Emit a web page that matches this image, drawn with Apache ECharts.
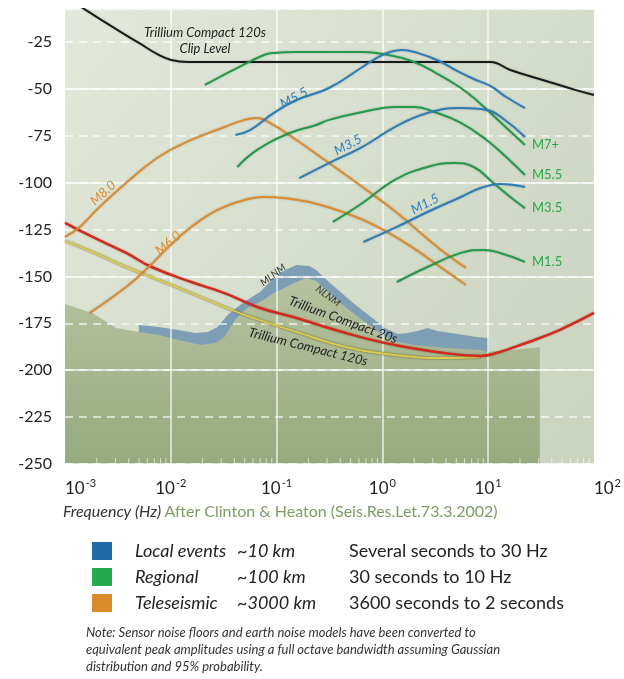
<!DOCTYPE html>
<html>
<head>
<meta charset="utf-8">
<script src="https://cdn.jsdelivr.net/npm/echarts@6/dist/echarts.min.js"></script>
<style>
  html, body { margin: 0; padding: 0; background: #fff; }
  #chart { width: 624px; height: 679px; }
</style>
</head>
<body>
<div id="chart"></div>
<script>
// [frequency Hz, amplitude dB]
const clipLevel120s = [[0.0013, -5], [0.00262, -16], [0.005, -25.6], [0.0077, -32], [0.0101, -34.7], [0.0146, -35.7], [0.1, -35.7], [1, -35.7], [10.5, -35.7], [16.2, -40], [32.8, -45.3], [66.5, -50.6], [100, -53.3]];
const tc20 = [[0.001, -121.5], [0.00182, -129.0], [0.00378, -137.5], [0.00659, -145.0], [0.0156, -153.0], [0.0322, -158.9], [0.0655, -166.3], [0.154, -172.2], [0.451, -180.2], [1.31, -186.6], [3.85, -190.8], [8.49, -192.4], [11.2, -191.4], [22.8, -185.5], [47.2, -178.6], [100, -169.5]];
const tc120 = [[0.001, -131.1], [0.00182, -137.0], [0.00378, -145.0], [0.00767, -151.9], [0.0156, -158.9], [0.0322, -166.3], [0.0562, -171.6], [0.154, -179.6], [0.451, -187.6], [1.31, -191.9], [3.85, -193.5], [8.49, -193.0]];
const nlnm = [[0.001, -164.7], [0.00182, -169.5], [0.00305, -177.5], [0.00499, -179.6], [0.00767, -181.2], [0.0118, -183.9], [0.0193, -186.6], [0.026, -185.5], [0.0322, -182.3], [0.0366, -177.0], [0.0426, -171.6], [0.0528, -166.9], [0.0698, -163.7], [0.0942, -158.9], [0.124, -155.7], [0.154, -153.0], [0.191, -150.9], [0.237, -152.5], [0.313, -158.9], [0.423, -165.3], [0.558, -170.6], [0.804, -177.0], [1.0, -181.2], [1.4, -185.0], [2.02, -186.6], [4.1, -188.2], [8.49, -189.2], [9.66, -190.3], [17.2, -189.2], [30.8, -187.6]];
const mlnm = [[0.00499, -175.9], [0.00767, -177.0], [0.0118, -178.6], [0.0169, -180.2], [0.0224, -179.6], [0.0277, -177.0], [0.0344, -170.6], [0.0426, -166.3], [0.0528, -162.6], [0.0698, -158.3], [0.0865, -153.0], [0.107, -148.2], [0.133, -145.5], [0.154, -143.9], [0.204, -144.5], [0.237, -146.6], [0.313, -153.0], [0.423, -159.4], [0.558, -165.3], [0.804, -172.2], [1.06, -177.5], [1.4, -180.7], [1.74, -180.2], [2.15, -179.1], [2.67, -177.5], [3.31, -179.1], [4.47, -180.2], [5.9, -181.2], [7.8, -182.3], [10.1, -182.8], [10.1, -192.4]];

const localM55 = [[0.0408, -74.6], [0.0562, -72.0], [0.0942, -62.9], [0.154, -56.0], [0.313, -49.6], [0.649, -38.4], [0.914, -33.1], [1.18, -30.4], [1.53, -29.3], [2.15, -30.9], [3.45, -35.2], [5.08, -40.5], [7.31, -44.8], [10.5, -48.5], [14.8, -54.4], [22.3, -60.3]];
const localM35 = [[0.164, -97.6], [0.313, -89.6], [0.649, -81.0], [1.31, -70.4], [2.67, -62.9], [5.53, -60.3], [9.66, -61.3], [14.8, -67.2], [22.3, -75.7]];
const localM15 = [[0.662, -131.7], [1.31, -124.2], [2.67, -115.7], [5.53, -107.7], [8.49, -102.9], [13.0, -100.8], [22.3, -102.4]];

const regionalM7 = [[0.021, -48.0], [0.0426, -38.9], [0.076, -32.0], [0.0942, -30.9], [0.154, -30.4], [0.649, -30.4], [1.13, -32.0], [1.89, -35.2], [3.1, -41.1], [5.53, -49.6], [8.49, -58.1], [13.0, -67.7], [17.2, -74.1], [22.3, -80.0]];
const regionalM55 = [[0.0426, -91.7], [0.0655, -82.6], [0.133, -73.6], [0.237, -69.3], [0.313, -66.6], [0.649, -62.4], [1.31, -59.7], [2.02, -59.7], [3.1, -62.4], [5.53, -68.2], [9.66, -77.3], [14.8, -86.4], [22.3, -96.0]];
const regionalM35 = [[0.341, -121.0], [0.649, -110.9], [1.31, -98.6], [2.67, -91.7], [4.76, -89.6], [7.31, -91.7], [11.2, -100.2], [16.2, -107.7], [22.3, -113.6]];
const regionalM15 = [[1.37, -153.0], [2.67, -145.0], [5.53, -137.5], [9.06, -135.9], [13.0, -137.5], [22.3, -142.3]];
const regionalTags = ['M7+', 'M5.5', 'M3.5', 'M1.5'];

const teleM80 = [[0.001, -129.0], [0.00138, -123.7], [0.00212, -113.0], [0.00378, -100.2], [0.00767, -86.4], [0.0156, -77.3], [0.0322, -70.4], [0.0495, -66.6], [0.0655, -65.6], [0.0865, -68.2], [0.154, -77.3], [0.313, -89.6], [0.649, -102.4], [1.31, -115.2], [3.31, -134.3], [6.17, -145.5]];
const teleM60 = [[0.00171, -169.5], [0.00378, -155.7], [0.00618, -145.0], [0.00951, -134.3], [0.0156, -123.7], [0.0277, -114.6], [0.0495, -109.3], [0.076, -107.7], [0.117, -108.2], [0.204, -110.4], [0.451, -116.2], [0.914, -123.7], [1.89, -134.3], [3.31, -143.9], [6.17, -154.6]];

const legendNames = ['Local events', 'Regional', 'Teleseismic'];
const legendDistance = ['~10 km', '~100 km', '~3000 km'];
const legendBand = ['Several seconds to 30 Hz', '30 seconds to 10 Hz', '3600 seconds to 2 seconds'];

const BLUE = '#2a7dbd', GREEN = '#1f9b4a', ORANGE = '#df8a2b';
const FONT = 'Lato';

const chart = echarts.init(document.getElementById('chart'));

function curve(name, data, color, extra) {
  return Object.assign({
    type: 'line', name: name, data: data, smooth: 0.45, symbol: 'none', silent: true, z: 3,
    color: color,
    lineStyle: { color: color, width: 2, shadowColor: 'rgba(0,0,0,0.25)', shadowBlur: 2 }
  }, extra || {});
}

function area(name, pts, fill, z) {
  return {
    type: 'custom', name: name, z: z, silent: true, data: [pts[0]],
    renderItem: function (params, api) {
      return { type: 'polygon', shape: { points: pts.map(function (p) { return api.coord(p); }) }, style: { fill: fill } };
    }
  };
}

// minor log ticks along the bottom axis
const minorTicks = [];
for (let e = -3; e < 2; e++) {
  for (let k = 2; k <= 9; k++) minorTicks.push([k * Math.pow(10, e), -250]);
}

const greenEnd = function (tag) {
  return { endLabel: { show: true, formatter: tag, color: '#2aa84a', fontSize: 13, fontFamily: FONT, distance: 7 } };
};

const notes = [
  ['Trillium Compact 120s', 205, 33, 0, '#222', 13],
  ['Clip Level', 205, 49, 0, '#222', 13],
  ['M5.5', 294, 98, 28, BLUE, 13],
  ['M3.5', 348, 145, 28, BLUE, 13],
  ['M1.5', 425, 204, 27, BLUE, 13],
  ['M8.0', 103, 193, 42, ORANGE, 13],
  ['M6.0', 168, 243, 40, ORANGE, 13],
  ['MLNM', 273, 275, 38, '#333', 10],
  ['NLNM', 328, 296, -37, '#333', 10],
  ['Trillium Compact 20s', 343, 320, -20, '#222', 13],
  ['Trillium Compact 120s', 308, 347, -14, '#222', 13]
];

const graphics = notes.map(function (n) {
  return {
    type: 'text', x: n[1], y: n[2], rotation: n[3] * Math.PI / 180, z: 10, silent: true,
    style: { text: n[0], fill: n[4], font: 'italic ' + n[5] + 'px ' + FONT, align: 'center', verticalAlign: 'middle' }
  };
});
graphics.push({
  type: 'text', x: 63, y: 504, silent: true,
  style: {
    text: '{a|Frequency (Hz)} {b|After Clinton & Heaton (Seis.Res.Let.73.3.2002)}',
    rich: {
      a: { fontFamily: FONT, fontStyle: 'italic', fontSize: 16, fill: '#333' },
      b: { fontFamily: FONT, fontSize: 16, fill: '#7d9c66' }
    }
  }
});
graphics.push({
  type: 'text', x: 86, y: 624, silent: true,
  style: {
    text: 'Note: Sensor noise floors and earth noise models have been converted to\nequivalent peak amplitudes using a full octave bandwidth assuming Gaussian\ndistribution and 95% probability.',
    font: 'italic 13px ' + FONT, fill: '#333', lineHeight: 17
  }
});

const option = {
  animation: false,
  grid: {
    left: 65, right: 22, top: 9, bottom: 215, show: true, borderWidth: 0, z: -5,
    backgroundColor: new echarts.graphic.LinearGradient(0, 0, 1, 1, [
      { offset: 0, color: '#e2e8db' }, { offset: 1, color: '#c9d3bd' }
    ])
  },
  xAxis: {
    type: 'log', logBase: 10, min: 0.001, max: 100,
    axisLine: { show: false }, axisTick: { show: false },
    splitLine: { show: true, showMinLine: false, showMaxLine: false, lineStyle: { color: 'rgba(255,255,255,0.8)', width: 1.5 } },
    axisLabel: {
      margin: 14, alignMinLabel: 'left', alignMaxLabel: 'left',
      formatter: function (v) { return '{b|10}{s|' + Math.round(Math.log10(v)) + '}'; },
      rich: {
        b: { fontFamily: FONT, fontSize: 17, color: '#222', verticalAlign: 'bottom' },
        s: { fontFamily: FONT, fontSize: 11, color: '#222', verticalAlign: 'bottom', padding: [0, 0, 8, 1] }
      }
    }
  },
  yAxis: [{
    type: 'value', min: -250, max: -7.5, interval: 25,
    axisLine: { show: false }, axisTick: { show: false },
    axisLabel: {
      margin: 13, color: '#222', fontFamily: FONT, fontSize: 16,
      formatter: function (v) { return v % 25 === 0 ? String(v) : ''; }
    },
    splitLine: { lineStyle: { color: 'rgba(255,255,255,0.8)', width: 1.5, type: [8, 6] } }
  }, {
    type: 'value', min: -250, max: -7.5, interval: 50, position: 'left',
    axisLine: { show: false }, axisTick: { show: false }, axisLabel: { show: false },
    splitLine: { lineStyle: { color: 'rgba(255,255,255,0.85)', width: 1.5 } }
  }],
  legend: {
    orient: 'vertical', left: 87, top: 537, itemWidth: 20, itemHeight: 18, itemGap: 8,
    icon: 'rect', selectedMode: false,
    data: [
      { name: legendNames[0], itemStyle: { color: '#1f6aa8' } },
      { name: legendNames[1], itemStyle: { color: '#24ab4b' } },
      { name: legendNames[2], itemStyle: { color: '#d98b2b' } }
    ],
    formatter: function (name) {
      const i = legendNames.indexOf(name);
      return '{a|' + name + '}{b|' + legendDistance[i] + '}{c|' + legendBand[i] + '}';
    },
    textStyle: {
      color: '#222', fontFamily: FONT, fontSize: 18,
      rich: {
        a: { fontStyle: 'italic', fontSize: 18, width: 102, lineHeight: 18, padding: [0, 0, 0, 18], color: '#222', fontFamily: FONT },
        b: { fontStyle: 'italic', fontSize: 18, width: 112, lineHeight: 18, color: '#222', fontFamily: FONT },
        c: { fontSize: 18, lineHeight: 18, color: '#222', fontFamily: FONT }
      }
    }
  },
  graphic: graphics,
  series: [
    area('MLNM', mlnm.concat([[10.1, -250], [0.00499, -250]]), '#7e9eb6', -3),
    area('NLNM', nlnm.concat([[30.8, -250], [0.001, -250]]),
      new echarts.graphic.LinearGradient(0, 0, 0, 1, [{ offset: 0, color: '#b6c2a0' }, { offset: 1, color: '#97aa7e' }]), -2),
    {
      type: 'custom', name: 'ticks', z: 4, silent: true, data: minorTicks,
      renderItem: function (params, api) {
        const p = api.coord([api.value(0), api.value(1)]);
        return { type: 'line', shape: { x1: p[0], y1: p[1], x2: p[0], y2: p[1] - 6 }, style: { stroke: 'rgba(255,255,255,0.6)', lineWidth: 1 } };
      }
    },
    curve('Trillium Compact 120s self noise', tc120, '#dccb4c', { lineStyle: { color: '#dccb4c', width: 2, shadowColor: 'rgba(60,50,0,0.7)', shadowBlur: 2 } }),
    curve('Trillium Compact 20s self noise', tc20, '#d6281c', { lineStyle: { color: '#d6281c', width: 2.5, shadowColor: 'rgba(0,0,0,0.3)', shadowBlur: 2 } }),
    curve('Clip level', clipLevel120s, '#1a1a1a'),
    curve(legendNames[2], teleM80, ORANGE),
    curve(legendNames[2], teleM60, ORANGE),
    curve(legendNames[1], regionalM7, GREEN, greenEnd(regionalTags[0])),
    curve(legendNames[1], regionalM55, GREEN, greenEnd(regionalTags[1])),
    curve(legendNames[1], regionalM35, GREEN, greenEnd(regionalTags[2])),
    curve(legendNames[1], regionalM15, GREEN, greenEnd(regionalTags[3])),
    curve(legendNames[0], localM55, BLUE),
    curve(legendNames[0], localM35, BLUE),
    curve(legendNames[0], localM15, BLUE)
  ]
};

chart.setOption(option);
</script>
</body>
</html>
